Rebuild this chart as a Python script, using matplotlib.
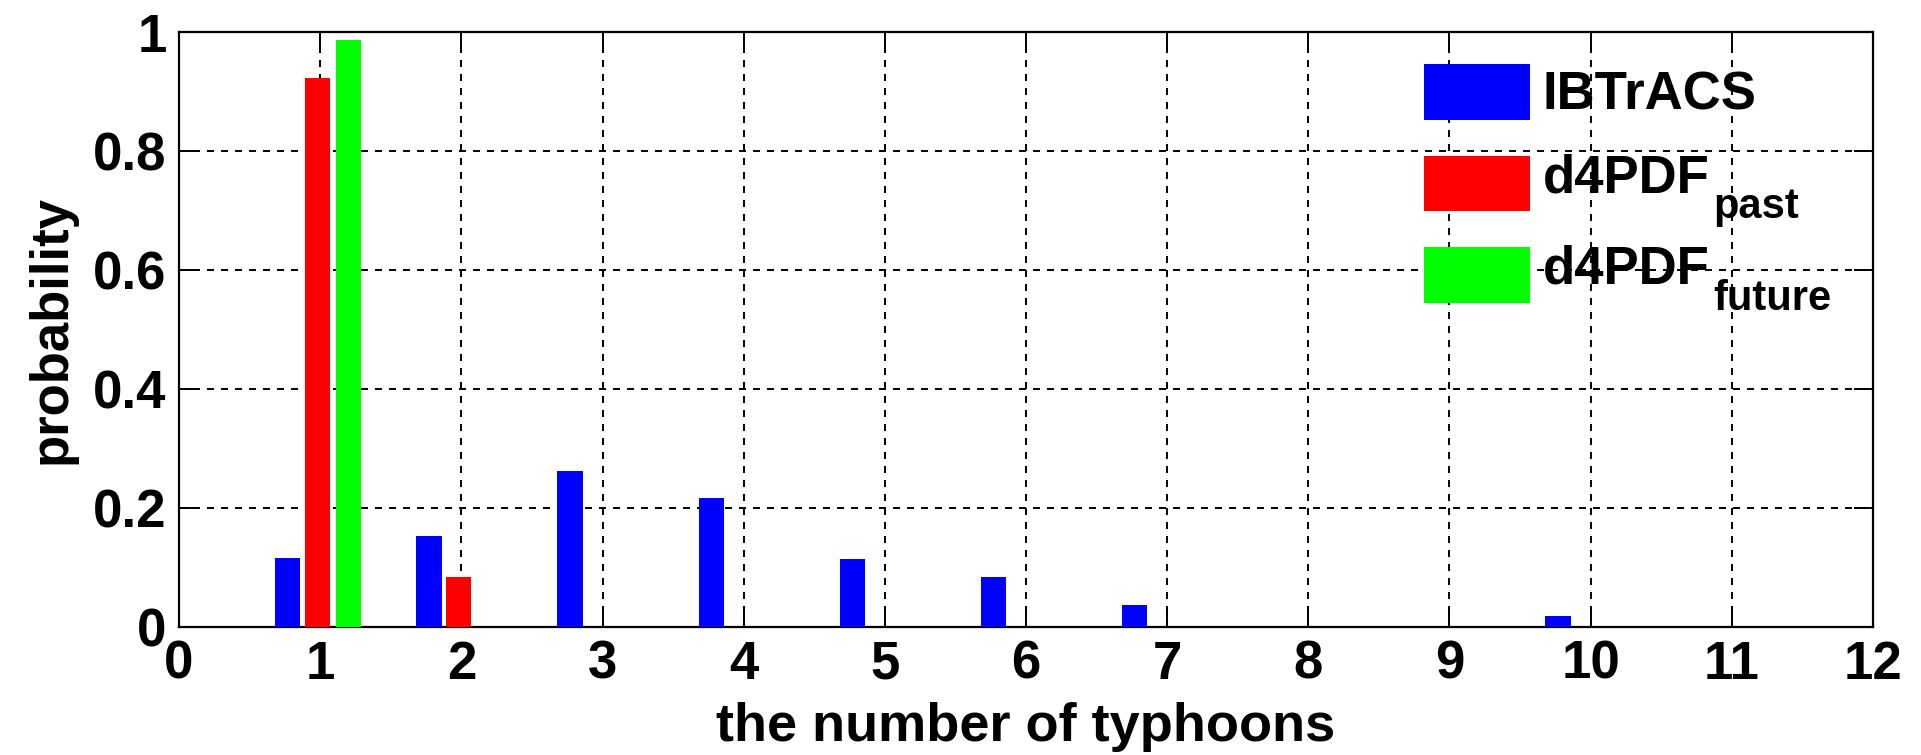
import numpy as np
import matplotlib
matplotlib.use("Agg")
import matplotlib.pyplot as plt

plt.rcParams["font.family"] = ["Liberation Sans", "DejaVu Sans"]
plt.rcParams["font.weight"] = "bold"

# probability of the number of typhoons per season
counts = np.arange(1, 11)
ibtracs = [0.116, 0.153, 0.262, 0.217, 0.115, 0.084, 0.037, 0.0, 0.0, 0.018]
past_counts = [1, 2]
d4pdf_past = [0.923, 0.084]
future_counts = [1]
d4pdf_future = [0.987]

labels = ["IBTrACS", "d4PDF", "d4PDF"]
subscripts = [None, "past", "future"]

fig = plt.figure(figsize=(19.21, 7.55), dpi=100)
ax = fig.add_axes([0.0932, 0.1695, 0.8818, 0.7881])

w = 0.18
ax.bar(counts - 0.23, ibtracs, w, color="#0000ff", label=labels[0], zorder=3)
ax.bar(np.array(past_counts) - 0.02, d4pdf_past, w, color="#ff0000", label=labels[1], zorder=3)
ax.bar(np.array(future_counts) + 0.2, d4pdf_future, w, color="#00ff00", label=labels[2], zorder=3)

ax.set_xlim(0, 12)
ax.set_ylim(0, 1)
ax.set_xticks(range(0, 13))
ax.set_yticks([0, 0.2, 0.4, 0.6, 0.8, 1])
ax.set_yticklabels(["0", "0.2", "0.4", "0.6", "0.8", "1"])

ax.grid(True, color="black", linestyle=(0, (3.6, 3.6)), linewidth=1.4, zorder=0)
ax.tick_params(direction="in", length=14, width=1.4, top=True, right=True,
               labelsize=38, pad=9)
for s in ax.spines.values():
    s.set_linewidth(1.6)

ax.set_xlabel("the number of typhoons", fontsize=39, fontweight="bold", labelpad=9)
ax.set_ylabel("probability", fontsize=38, fontweight="bold", labelpad=12)

leg = ax.legend(loc="upper left", bbox_to_anchor=(0.735, 0.946), frameon=False,
                fontsize=38, handlelength=2.0, handleheight=1.25, handletextpad=0.25,
                borderpad=0, borderaxespad=0, labelspacing=0.66)

# labels with a subscript sit a little above their patch
for t, sub in zip(leg.get_texts(), subscripts):
    if sub is not None:
        t.set_position((0, 9))

# subscripts next to the legend labels
fig.canvas.draw()
H = fig.bbox.height
W = fig.bbox.width
for t, sub in zip(leg.get_texts(), subscripts):
    if sub is None:
        continue
    bb = t.get_window_extent()
    fig.text((bb.x1 + 4) / W, (bb.y1 - 65) / H, sub, fontsize=30,
             fontweight="bold", ha="left", va="baseline")

fig.savefig("out.png", dpi=100)
